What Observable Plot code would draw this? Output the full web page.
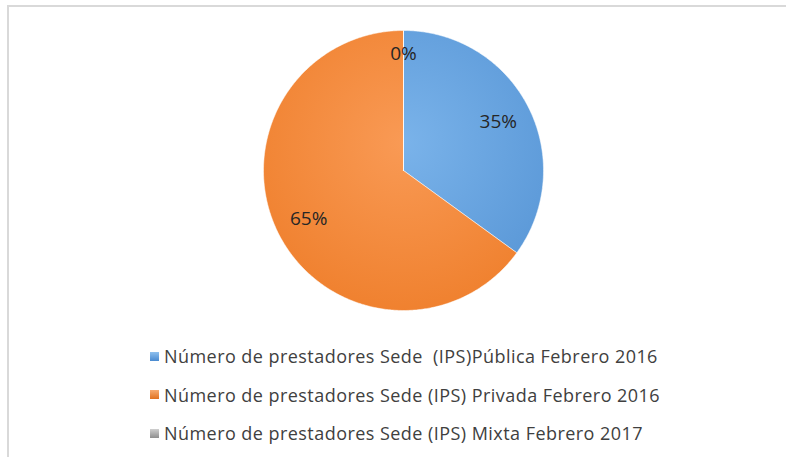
<!DOCTYPE html>
<html><head><meta charset="utf-8">
<script src="https://cdn.jsdelivr.net/npm/d3@7"></script>
<script src="https://cdn.jsdelivr.net/npm/@observablehq/plot@0.6"></script>
<style>
html,body{margin:0;padding:0;background:#fff;width:786px;height:457px;overflow:hidden;}
#frame{position:absolute;left:7px;top:5px;width:790px;height:460px;border-left:2px solid #d9d9d9;border-top:2px solid #d9d9d9;}
#chart{position:absolute;left:0;top:0;}
#legend{position:absolute;left:141px;top:330px;font-family:"Open Sans",Lato,sans-serif;font-size:18px;letter-spacing:0.45px;color:#404040;}
.item{height:38.5px;display:flex;align-items:center;white-space:pre;}
.sw{width:9px;height:9px;margin-right:5px;box-sizing:border-box;}
</style></head>
<body>
<div id="frame"><div id="chart"></div><div id="legend"></div></div>
<script>
const categories = [
  "Número de prestadores Sede  (IPS)Pública Febrero 2016",
  "Número de prestadores Sede (IPS) Privada Febrero 2016",
  "Número de prestadores Sede (IPS) Mixta Febrero 2017"
];
const values = [35, 65, 0];
const labels = ["35%", "65%", "0%"];
const fills = ["url(#gBlue)", "url(#gOrange)", "url(#gGray)"];
const swatchCss = [
  "linear-gradient(#8ec0ee,#4a8ad0)",
  "linear-gradient(#f7ab70,#e0721f)",
  "linear-gradient(#cfcfcf,#8f8f8f)"
];

const pie = d3.pie().sort(null).startAngle(0).endAngle(2*Math.PI)(values);
const poly = [];
pie.forEach((a, i) => {
  poly.push({cat: categories[i], x: 0, y: 0});
  const n = Math.max(2, Math.ceil((a.endAngle - a.startAngle) / 0.01));
  for (let k = 0; k <= n; k++) {
    const t = a.startAngle + (a.endAngle - a.startAngle) * k / n;
    poly.push({cat: categories[i], x: Math.sin(t), y: Math.cos(t)});
  }
  poly.push({cat: categories[i], x: 0, y: 0});
});
const lab = pie.map((a, i) => {
  const m = (a.startAngle + a.endAngle) / 2;
  const r = values[i] === 0 ? 0.83 : 0.76;
  return {x: Math.sin(m) * r, y: Math.cos(m) * r, text: labels[i]};
});

const cx = 394, cy = 163, R = 140;
const plot = Plot.plot({
  width: 779, height: 325,
  margin: 0,
  x: {domain: [-1, 1], range: [cx - R, cx + R], axis: null},
  y: {domain: [-1, 1], range: [cy + R, cy - R], axis: null},
  color: {type: "ordinal", domain: categories, range: fills},
  marks: [
    Plot.line(poly, {x: "x", y: "y", z: "cat", fill: "cat", stroke: "#ffffff", strokeOpacity: 0.5, strokeWidth: 1, curve: "linear-closed"}),
    Plot.text(lab, {x: "x", y: "y", text: "text", fontSize: 19, fill: "#262626", fontFamily: "'Open Sans', Lato, sans-serif"})
  ]
});
const svg = d3.select(plot);
const defs = svg.insert("defs", ":first-child");
const mk = (id, c1, c2) => {
  const g = defs.append("radialGradient").attr("id", id).attr("gradientUnits", "userSpaceOnUse")
    .attr("cx", cx).attr("cy", cy - R*0.2).attr("r", R*1.3);
  g.append("stop").attr("offset", "0%").attr("stop-color", c1);
  g.append("stop").attr("offset", "100%").attr("stop-color", c2);
};
mk("gBlue", "#7ab3ea", "#5896d6");
mk("gOrange", "#f99a55", "#ef7f2c");
mk("gGray", "#b8b8b8", "#989898");
document.getElementById("chart").appendChild(plot);

const leg = d3.select("#legend");
categories.forEach((c, i) => {
  const it = leg.append("div").attr("class", "item");
  it.append("div").attr("class", "sw").style("background", swatchCss[i]);
  it.append("span").text(c);
});
</script>
</body></html>
